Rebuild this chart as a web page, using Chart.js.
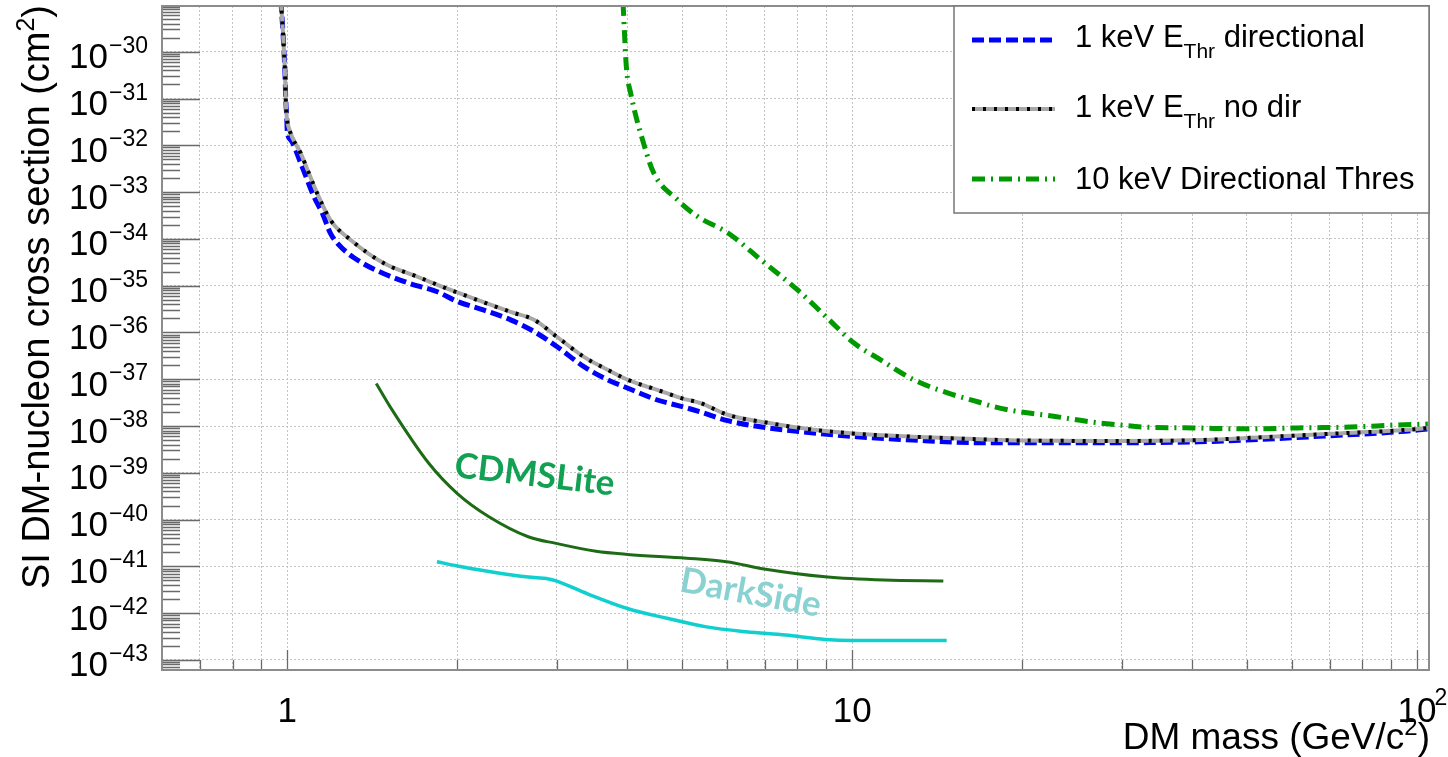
<!DOCTYPE html>
<html>
<head>
<meta charset="utf-8">
<title>SI DM-nucleon cross section limits</title>
<script src="https://cdn.jsdelivr.net/npm/chart.js@4.4.0/dist/chart.umd.min.js"></script>
<style>
  html, body { margin: 0; padding: 0; background: #fff; }
  #wrap { width: 1448px; height: 757px; position: relative; }
</style>
</head>
<body>
<div id="wrap"><canvas id="myChart"></canvas></div>
<script>
// DM mass in GeV/c^2, cross sections in cm^2

// 1 keV threshold, directional
const massDir = [0.974, 0.9826, 0.9866, 0.9906, 0.9935, 0.9976, 1.0, 1.014, 1.056, 1.115, 1.154, 1.193, 1.243, 1.349, 1.483, 1.654, 1.843, 2.0, 2.23, 2.485, 2.734, 3.0, 3.35, 3.687, 4.0, 4.52, 5.0, 5.39, 6.02, 7.09, 8.55, 10.2, 12.8, 16.9, 20, 30, 41, 53, 70, 93.5, 105];
const sigmaDir = [1.3e-29, 2.5e-30, 1.0e-30, 3.5e-31, 1.0e-31, 4.1e-32, 1.95e-32, 1.3e-32, 4.2e-33, 7.9e-34, 3.5e-34, 1.3e-34, 6.8e-35, 3.2e-35, 1.8e-35, 1.1e-35, 7.4e-36, 4.6e-36, 3.0e-36, 1.86e-36, 1.05e-36, 5.0e-37, 1.86e-37, 9.8e-38, 6.5e-38, 3.6e-38, 2.6e-38, 2.0e-38, 1.3e-38, 9.1e-39, 7.1e-39, 5.9e-39, 5.0e-39, 4.4e-39, 4.4e-39, 4.4e-39, 4.6e-39, 5.2e-39, 6.2e-39, 7.6e-39, 8.7e-39];

// 1 keV threshold, no direction
const massNoDir = [0.974, 0.9826, 0.9866, 0.9906, 0.9935, 0.9976, 1.007, 1.056, 1.13, 1.193, 1.295, 1.483, 1.70, 1.946, 2.485, 2.734, 3.0, 3.35, 3.687, 4.0, 4.52, 5.0, 5.39, 6.02, 7.09, 8.55, 10.2, 12.8, 16.9, 20, 30, 41, 53, 70, 93.5, 105];
const sigmaNoDir = [1.3e-29, 2.5e-30, 1.0e-30, 3.5e-31, 1.0e-31, 4.1e-32, 2.3e-32, 6.8e-33, 9.3e-34, 2.5e-34, 9.5e-35, 3.0e-35, 1.55e-35, 8.1e-36, 2.75e-36, 1.86e-36, 8.1e-37, 3.0e-37, 1.6e-37, 9.8e-38, 5.9e-38, 3.9e-38, 3.1e-38, 1.74e-38, 1.17e-38, 8.3e-39, 6.8e-39, 5.9e-39, 5.2e-39, 4.9e-39, 4.8e-39, 5.0e-39, 5.75e-39, 6.8e-39, 8.1e-39, 9.1e-39];

// 10 keV threshold, directional
const massThr10 = [3.93, 3.983, 4.054, 4.273, 4.451, 4.909, 5.326, 6.02, 6.969, 8.006, 9.05, 10.06, 11.23, 12.84, 14.75, 16.67, 17.8, 19.86, 22.4, 26.4, 29.85, 32.8, 40.2, 49.3, 61.4, 76.2, 92.4, 104.5];
const sigmaThr10 = [1.1e-29, 4.8e-31, 1.3e-31, 1.1e-32, 2.6e-33, 6.8e-34, 3.0e-34, 1.35e-34, 3.2e-35, 8.1e-36, 2.0e-36, 6.0e-37, 2.6e-37, 9.8e-38, 5.1e-38, 3.3e-38, 2.6e-38, 2.0e-38, 1.66e-38, 1.23e-38, 1.05e-38, 9.5e-39, 9.1e-39, 8.7e-39, 9.1e-39, 9.5e-39, 1.05e-38, 1.1e-38];

// CDMSLite limit
const massCdms = [1.437, 1.52, 1.78, 2.0, 2.275, 2.67, 2.99, 3.52, 4.0, 5.09, 5.99, 7.03, 8.95, 11.4, 14.5];
const sigmaCdms = [8.1e-38, 2.6e-38, 1.6e-39, 3.6e-40, 1.15e-40, 4.3e-41, 3.1e-41, 2.1e-41, 1.8e-41, 1.5e-41, 1.26e-41, 8.7e-42, 6.0e-42, 5.1e-42, 4.9e-42];

// DarkSide limit
const massDarkSide = [1.84, 2.0, 2.275, 2.67, 2.9, 2.99, 3.4, 4.0, 4.7, 5.52, 6.49, 7.62, 8.95, 10, 11.4, 14.7];
const sigmaDarkSide = [1.26e-41, 1.02e-41, 7.8e-42, 5.9e-42, 5.4e-42, 4.9e-42, 2.6e-42, 1.26e-42, 7.8e-43, 5.1e-43, 4.0e-43, 3.4e-43, 2.75e-43, 2.6e-43, 2.6e-43, 2.6e-43];

// axes
const xRange = [0.6, 105];
const yRange = [6.1e-44, 9.5e-30];
const xTickVals = [0.7, 0.8, 0.9, 1, 2, 3, 4, 5, 6, 7, 8, 9, 10, 20, 30, 40, 50, 60, 70, 80, 90, 100];
const xLabelVals = [1, 10, 100];
const yDecadeExps = [-43, -42, -41, -40, -39, -38, -37, -36, -35, -34, -33, -32, -31, -30];

const legendNames = [
  ['1 keV E', 'Thr', ' directional'],
  ['1 keV E', 'Thr', ' no dir'],
  ['10 keV Directional Thres']
];
const expLabels = [
  { text: 'CDMSLite', x: 2.74, y: 9.0e-40, angle: 6.6, color: '#12a052' },
  { text: 'DarkSide', x: 6.61, y: 2.7e-42, angle: 10.4, color: '#8ad2d2' }
];

const sans = '"Liberation Sans", Arial, sans-serif';

function pts(xs, ys) {
  return xs.map((v, i) => ({ x: v, y: ys[i] }));
}

// draws a list of text pieces one after another, left to right
function drawRich(ctx, parts, x, y) {
  let cx = x;
  parts.forEach(p => {
    ctx.font = p.font;
    ctx.fillText(p.text, cx, y + (p.dy || 0));
    cx += ctx.measureText(p.text).width;
  });
  return cx;
}
function richWidth(ctx, parts) {
  let w = 0;
  parts.forEach(p => { ctx.font = p.font; w += ctx.measureText(p.text).width; });
  return w;
}

function sampleLine(ctx, x0, x1, y, kind) {
  ctx.save();
  ctx.lineCap = 'butt';
  if (kind === 0) {
    ctx.strokeStyle = '#0000ff'; ctx.lineWidth = 5; ctx.setLineDash([12, 5]);
    ctx.beginPath(); ctx.moveTo(x0, y); ctx.lineTo(x1, y); ctx.stroke();
  } else if (kind === 1) {
    ctx.strokeStyle = '#a8a8a8'; ctx.lineWidth = 4;
    ctx.beginPath(); ctx.moveTo(x0, y); ctx.lineTo(x1, y); ctx.stroke();
    ctx.strokeStyle = '#000'; ctx.setLineDash([3, 8]);
    ctx.beginPath(); ctx.moveTo(x0, y); ctx.lineTo(x1, y); ctx.stroke();
  } else {
    ctx.strokeStyle = '#009a00'; ctx.lineWidth = 5; ctx.setLineDash([13, 6, 2, 6]);
    ctx.beginPath(); ctx.moveTo(x0, y); ctx.lineTo(x1, y); ctx.stroke();
  }
  ctx.restore();
}

const rootStyle = {
  id: 'rootStyle',
  afterDraw(chart) {
    const { ctx, chartArea: a, scales: { x, y } } = chart;
    ctx.save();

    // inner tick marks, left axis
    ctx.strokeStyle = '#6a6a6a';
    ctx.lineWidth = 1.3;
    ctx.beginPath();
    for (let e = -44; e <= -29; e++) {
      for (let k = 1; k <= 9; k++) {
        const v = k * Math.pow(10, e);
        if (v < yRange[0] || v > yRange[1]) continue;
        const py = Math.round(y.getPixelForValue(v)) + 0.5;
        ctx.moveTo(a.left, py);
        ctx.lineTo(a.left + (k === 1 ? 38 : 18), py);
      }
    }
    // inner tick marks, bottom axis
    xTickVals.forEach(v => {
      const px = Math.round(x.getPixelForValue(v)) + 0.5;
      const major = xLabelVals.includes(v);
      ctx.moveTo(px, a.bottom);
      ctx.lineTo(px, a.bottom - (major ? 20 : 10));
    });
    ctx.stroke();

    // frame
    ctx.strokeStyle = '#8c8c8c';
    ctx.lineWidth = 2;
    ctx.strokeRect(a.left, a.top, a.right - a.left, a.bottom - a.top);

    ctx.fillStyle = '#000';
    ctx.textBaseline = 'alphabetic';
    ctx.textAlign = 'left';

    // y tick labels 10^n
    yDecadeExps.forEach(e => {
      const py = y.getPixelForValue(Math.pow(10, e));
      const expTxt = '\u2212' + Math.abs(e);
      ctx.font = '23px ' + sans;
      const ew = ctx.measureText(expTxt).width;
      const ex = 148 - ew;
      ctx.fillText(expTxt, ex, py + 1);
      ctx.font = '35px ' + sans;
      const bw = ctx.measureText('10').width;
      ctx.fillText('10', ex - bw - 1, py + 16.5);
    });

    // x tick labels
    xLabelVals.forEach(v => {
      const px = x.getPixelForValue(v);
      ctx.font = '35px ' + sans;
      if (v === 100) {
        const bw = ctx.measureText('10').width;
        ctx.fillText('10', px - bw / 2, 722);
        ctx.font = '23px ' + sans;
        ctx.fillText('2', px + bw / 2 - 2, 705);
      } else {
        const t = String(v);
        const w = ctx.measureText(t).width;
        ctx.fillText(t, px - w / 2, 722);
      }
    });

    // x title, right aligned to the frame
    const xt = [
      { text: 'DM mass (GeV/c', font: '37px ' + sans },
      { text: '2', font: '24px ' + sans, dy: -14 },
      { text: ')', font: '37px ' + sans }
    ];
    drawRich(ctx, xt, a.right + 1 - richWidth(ctx, xt), 749);

    // y title, rotated, ending at the top of the frame
    const yt = [
      { text: 'SI DM-nucleon cross section (cm', font: '38px ' + sans },
      { text: '2', font: '25px ' + sans, dy: -15 },
      { text: ')', font: '38px ' + sans }
    ];
    ctx.save();
    ctx.translate(49, a.top - 1);
    ctx.rotate(-Math.PI / 2);
    drawRich(ctx, yt, -richWidth(ctx, yt), 0);
    ctx.restore();

    // legend box
    const lx = 954, ly = a.top, lw = a.right - lx, lh = 207;
    ctx.fillStyle = '#fff';
    ctx.fillRect(lx, ly, lw, lh);
    ctx.strokeStyle = '#777';
    ctx.lineWidth = 1.5;
    ctx.strokeRect(lx, ly, lw, lh);
    const rowLine = [40, 109, 179];
    const rowBase = [47, 117, 189];
    ctx.fillStyle = '#000';
    legendNames.forEach((n, i) => {
      sampleLine(ctx, 972, 1055, rowLine[i], i);
      const parts = n.length === 3
        ? [{ text: n[0], font: '31px ' + sans },
           { text: n[1], font: '21px ' + sans, dy: 11 },
           { text: n[2], font: '31px ' + sans }]
        : [{ text: n[0], font: '31px ' + sans }];
      drawRich(ctx, parts, 1075, rowBase[i]);
    });

    // experiment names next to their curves
    expLabels.forEach(l => {
      ctx.save();
      ctx.translate(x.getPixelForValue(l.x), y.getPixelForValue(l.y));
      ctx.rotate(l.angle * Math.PI / 180);
      ctx.font = 'bold 35px Lato, "Open Sans", sans-serif';
      ctx.fillStyle = l.color;
      ctx.textAlign = 'center';
      ctx.textBaseline = 'middle';
      ctx.fillText(l.text, 0, 0);
      ctx.restore();
    });

    ctx.restore();
  }
};

const lineBase = { pointRadius: 0, fill: false, cubicInterpolationMode: 'monotone', borderCapStyle: 'butt' };

const config = {
  type: 'line',
  data: {
    datasets: [
      Object.assign({ label: 'no dir dots', data: pts(massNoDir, sigmaNoDir), borderColor: '#000000', borderWidth: 4, borderDash: [3, 8], order: 0 }, lineBase),
      Object.assign({ label: '1 keV no dir', data: pts(massNoDir, sigmaNoDir), borderColor: '#a8a8a8', borderWidth: 4, order: 1 }, lineBase),
      Object.assign({ label: '1 keV directional', data: pts(massDir, sigmaDir), borderColor: '#0000ff', borderWidth: 5, borderDash: [12, 5], order: 2 }, lineBase),
      Object.assign({ label: '10 keV Directional Thres', data: pts(massThr10, sigmaThr10), borderColor: '#009a00', borderWidth: 5, borderDash: [13, 6, 2, 6], order: 3 }, lineBase),
      Object.assign({ label: 'CDMSLite', data: pts(massCdms, sigmaCdms), borderColor: '#1e6b16', borderWidth: 3, order: 4 }, lineBase),
      Object.assign({ label: 'DarkSide', data: pts(massDarkSide, sigmaDarkSide), borderColor: '#10cfcf', borderWidth: 3.5, order: 4 }, lineBase)
    ]
  },
  options: {
    responsive: true,
    maintainAspectRatio: false,
    devicePixelRatio: 1,
    animation: false,
    layout: { padding: { left: 162, right: 19, top: 6, bottom: 87 } },
    plugins: { legend: { display: false }, tooltip: { enabled: false } },
    scales: {
      x: {
        type: 'logarithmic',
        min: xRange[0],
        max: xRange[1],
        afterBuildTicks: axis => { axis.ticks = xTickVals.map(v => ({ value: v })); },
        ticks: { display: false },
        grid: { color: '#c4c4c4', lineWidth: 1, drawTicks: false },
        border: { display: false, dash: [2, 2] }
      },
      y: {
        type: 'logarithmic',
        min: yRange[0],
        max: yRange[1],
        afterBuildTicks: axis => { axis.ticks = yDecadeExps.map(e => ({ value: Math.pow(10, e) })); },
        ticks: { display: false },
        grid: { color: '#c4c4c4', lineWidth: 1, drawTicks: false },
        border: { display: false, dash: [2, 2] }
      }
    }
  },
  plugins: [rootStyle]
};

const myChart = new Chart(document.getElementById('myChart'), config);
</script>
</body>
</html>
